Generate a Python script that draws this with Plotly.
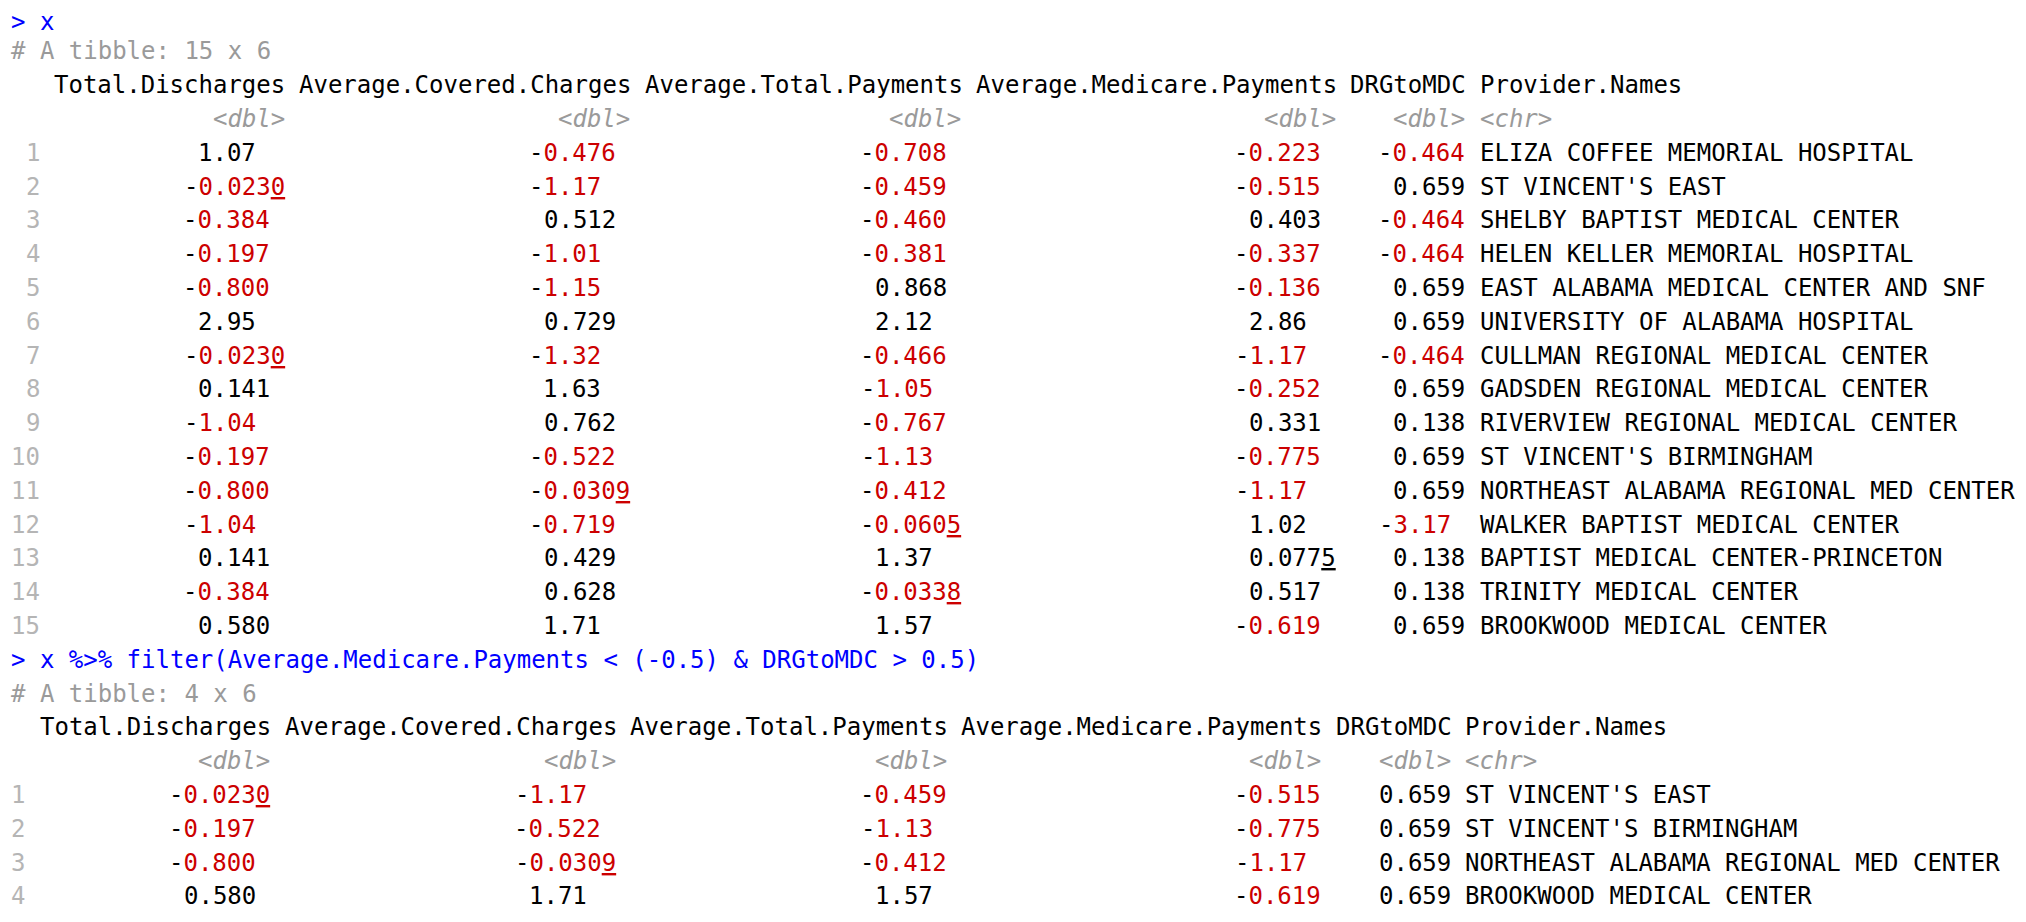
import plotly.graph_objects as go

# console text pieces
commands = ["x", "x %>% filter(Average.Medicare.Payments < (-0.5) & DRGtoMDC > 0.5)"]

columns = ["Total.Discharges", "Average.Covered.Charges", "Average.Total.Payments",
           "Average.Medicare.Payments", "DRGtoMDC", "Provider.Names"]
col_types = ["dbl", "dbl", "dbl", "dbl", "dbl", "chr"]

total_discharges = [1.07, -0.0230, -0.384, -0.197, -0.800, 2.95, -0.0230, 0.141,
                    -1.04, -0.197, -0.800, -1.04, 0.141, -0.384, 0.580]
avg_covered_charges = [-0.476, -1.17, 0.512, -1.01, -1.15, 0.729, -1.32, 1.63,
                       0.762, -0.522, -0.0309, -0.719, 0.429, 0.628, 1.71]
avg_total_payments = [-0.708, -0.459, -0.460, -0.381, 0.868, 2.12, -0.466, -1.05,
                      -0.767, -1.13, -0.412, -0.0605, 1.37, -0.0338, 1.57]
avg_medicare_payments = [-0.223, -0.515, 0.403, -0.337, -0.136, 2.86, -1.17, -0.252,
                         0.331, -0.775, -1.17, 1.02, 0.0775, 0.517, -0.619]
drg_to_mdc = [-0.464, 0.659, -0.464, -0.464, 0.659, 0.659, -0.464, 0.659,
              0.138, 0.659, 0.659, -3.17, 0.138, 0.138, 0.659]
provider_names = ["ELIZA COFFEE MEMORIAL HOSPITAL", "ST VINCENT'S EAST",
                  "SHELBY BAPTIST MEDICAL CENTER", "HELEN KELLER MEMORIAL HOSPITAL",
                  "EAST ALABAMA MEDICAL CENTER AND SNF", "UNIVERSITY OF ALABAMA HOSPITAL",
                  "CULLMAN REGIONAL MEDICAL CENTER", "GADSDEN REGIONAL MEDICAL CENTER",
                  "RIVERVIEW REGIONAL MEDICAL CENTER", "ST VINCENT'S BIRMINGHAM",
                  "NORTHEAST ALABAMA REGIONAL MED CENTER", "WALKER BAPTIST MEDICAL CENTER",
                  "BAPTIST MEDICAL CENTER-PRINCETON", "TRINITY MEDICAL CENTER",
                  "BROOKWOOD MEDICAL CENTER"]

MONO = "DejaVu Sans Mono"
FS = 24
BLUE = "#0000ff"
RED = "#cc0000"
GREY = "#9a9a9a"
ROWGREY = "#b5b5b5"
BLACK = "#000000"

CW = 14.4   # px per character column
LH = 33.8   # px per console line
W, H = 2026, 922
x0 = -3 / CW
y0 = -9.5 / LH

annotations = []


def put(x, y, text, color=BLACK, anchor="left", italic=False, yanchor="middle"):
    if italic:
        text = "<i>" + text + "</i>"
    annotations.append(dict(x=x, y=y, xref="x", yref="y", text=text, showarrow=False,
                            xanchor=anchor, yanchor=yanchor, borderpad=0, borderwidth=0,
                            font=dict(family=MONO, size=FS, color=color)))


def fmt(v):
    return f"{v:#.3g}"


def split_num(s):
    body = s[1:] if s.startswith("-") else s
    lhs, rhs = body.split(".")
    return s.startswith("-"), lhs, rhs


def num_html(s):
    neg, lhs, rhs = split_num(s)
    digits = lhs + "." + rhs[:3]
    if len(rhs) > 3:
        digits += "<u>" + rhs[3:6] + "</u>" + rhs[6:]
    if neg:
        return "-<span style='color:%s'>%s</span>" % (RED, digits)
    return digits


def print_tibble(y, cols, names):
    n = len(names)
    put(0, y, "# A tibble: %d x %d" % (n, len(cols) + 1), GREY)
    y += 1
    lw = len(str(n))
    start = lw + 1
    header_y, type_y = y, y + 1
    for name, kind, vals in zip(columns, col_types, cols + [names]):
        if kind == "dbl":
            strs = [fmt(v) for v in vals]
            parts = [split_num(s) for s in strs]
            lmax = max(len(p[1]) + (1 if p[0] else 0) for p in parts)
            rmax = max(len(p[2]) for p in parts)
            width = max(len(name), lmax + 1 + rmax, 5)
            end = start + width
            put(start, header_y, name)
            put(end, type_y, "&lt;dbl&gt;", GREY, anchor="right", italic=True)
            for i, s in enumerate(strs):
                pad = rmax - len(split_num(s)[2])
                put(end - pad, type_y + 1 + i, num_html(s), anchor="right")
            start = end + 1
        else:
            put(start, header_y, name)
            put(start, type_y, "&lt;chr&gt;", GREY, italic=True)
            for i, s in enumerate(vals):
                put(start, type_y + 1 + i, s)
    for i in range(n):
        put(lw, type_y + 1 + i, str(i + 1), ROWGREY, anchor="right")
    return type_y + 1 + n


num_cols = [total_discharges, avg_covered_charges, avg_total_payments,
            avg_medicare_payments, drg_to_mdc]

# first prompt hangs from the top of the page so its box stays inside
put(0, y0, "&gt; " + commands[0], BLUE, yanchor="top")
line = print_tibble(1, num_cols, provider_names)

keep = [i for i in range(len(provider_names))
        if avg_medicare_payments[i] < -0.5 and drg_to_mdc[i] > 0.5]
put(0, line, "&gt; " + commands[1].replace(">", "&gt;").replace("<", "&lt;"), BLUE)
line = print_tibble(line + 1, [[c[i] for i in keep] for c in num_cols],
                    [provider_names[i] for i in keep])

fig = go.Figure()
fig.update_layout(
    width=W, height=H,
    margin=dict(l=0, r=0, t=0, b=0),
    paper_bgcolor="white", plot_bgcolor="white",
    showlegend=False,
    annotations=annotations,
    xaxis=dict(range=[x0, x0 + W / CW], visible=False, fixedrange=True),
    yaxis=dict(range=[y0 + H / LH, y0], visible=False, fixedrange=True),
)

fig.write_html("out.html")
